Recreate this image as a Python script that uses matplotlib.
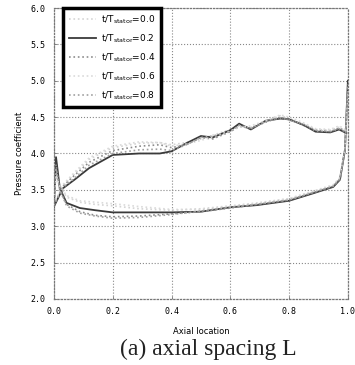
from matplotlib import pyplot as plt

# chordwise positions (upper and lower surface)
x_upper = [0.0, 0.03, 0.07, 0.12, 0.2, 0.29, 0.36, 0.4, 0.45, 0.5, 0.54, 0.6, 0.63, 0.67,
           0.72, 0.77, 0.8, 0.85, 0.89, 0.94, 0.97, 0.995]
x_lower = [0.0, 0.007, 0.02, 0.043, 0.088, 0.14, 0.2, 0.29, 0.4, 0.5, 0.6, 0.69, 0.8, 0.88,
           0.95, 0.973, 0.99, 1.0]

labels = ['0.0', '0.2', '0.4', '0.6', '0.8']

upper_t00 = [3.30, 3.55, 3.72, 3.92, 4.08, 4.14, 4.15, 4.12, 4.15, 4.20, 4.25, 4.33, 4.38, 4.36,
             4.44, 4.52, 4.48, 4.38, 4.33, 4.32, 4.36, 4.30]
upper_t02 = [3.27, 3.52, 3.64, 3.80, 3.98, 4.00, 4.00, 4.03, 4.14, 4.24, 4.22, 4.32, 4.41, 4.33,
             4.45, 4.48, 4.47, 4.39, 4.30, 4.29, 4.33, 4.28]
upper_t04 = [3.28, 3.55, 3.70, 3.88, 4.04, 4.10, 4.12, 4.08, 4.12, 4.22, 4.20, 4.30, 4.37, 4.35,
             4.43, 4.50, 4.46, 4.40, 4.32, 4.30, 4.35, 4.30]
upper_t06 = [3.30, 3.57, 3.74, 3.94, 4.10, 4.16, 4.15, 4.10, 4.13, 4.18, 4.23, 4.31, 4.36, 4.38,
             4.45, 4.53, 4.50, 4.42, 4.34, 4.33, 4.38, 4.32]
upper_t08 = [3.29, 3.53, 3.66, 3.84, 4.00, 4.05, 4.06, 4.04, 4.12, 4.22, 4.24, 4.30, 4.39, 4.34,
             4.44, 4.49, 4.46, 4.40, 4.31, 4.30, 4.34, 4.29]

lower_t00 = [3.30, 3.75, 3.55, 3.40, 3.33, 3.30, 3.28, 3.24, 3.22, 3.24, 3.28, 3.32, 3.38, 3.47,
             3.56, 3.66, 4.05, 4.90]
lower_t02 = [3.27, 3.95, 3.52, 3.32, 3.25, 3.22, 3.19, 3.19, 3.19, 3.20, 3.26, 3.29, 3.35, 3.45,
             3.54, 3.64, 4.05, 5.00]
lower_t04 = [3.28, 3.85, 3.50, 3.30, 3.20, 3.15, 3.13, 3.14, 3.17, 3.20, 3.25, 3.30, 3.36, 3.46,
             3.55, 3.65, 4.05, 4.95]
lower_t06 = [3.30, 3.70, 3.55, 3.42, 3.35, 3.33, 3.31, 3.27, 3.23, 3.23, 3.27, 3.31, 3.38, 3.48,
             3.57, 3.67, 4.08, 4.85]
lower_t08 = [3.28, 3.80, 3.50, 3.28, 3.18, 3.14, 3.11, 3.12, 3.16, 3.21, 3.26, 3.30, 3.36, 3.46,
             3.55, 3.65, 4.05, 4.95]

uppers = [upper_t00, upper_t02, upper_t04, upper_t06, upper_t08]
lowers = [lower_t00, lower_t02, lower_t04, lower_t06, lower_t08]
colors = ['#d4d4d4', '#3a3a3a', '#8c8c8c', '#dadada', '#a0a0a0']
styles = [':', '-', ':', ':', ':']
widths = [1.2, 1.3, 1.2, 1.2, 1.2]

fig = plt.figure(figsize=(3.55, 3.65), dpi=100)
ax = fig.add_axes([0.152, 0.181, 0.828, 0.797])

for i in range(len(labels)):
    lab = r't/T$_{\mathrm{stator}}$=' + labels[i]
    ax.plot(x_upper, uppers[i], color=colors[i], ls=styles[i], lw=widths[i], label=lab)
    ax.plot(x_lower, lowers[i], color=colors[i], ls=styles[i], lw=widths[i])

ax.set_xlim(0, 1.0)
ax.set_ylim(2.0, 6.0)
ax.set_xticks([0.0, 0.2, 0.4, 0.6, 0.8, 1.0])
ax.set_yticks([2.0, 2.5, 3.0, 3.5, 4.0, 4.5, 5.0, 5.5, 6.0])
ax.set_xticklabels(['0.0', '0.2', '0.4', '0.6', '0.8', '1.0'], family='DejaVu Sans Mono', fontsize=6)
ax.set_yticklabels(['2.0', '2.5', '3.0', '3.5', '4.0', '4.5', '5.0', '5.5', '6.0'],
                   family='DejaVu Sans Mono', fontsize=6)
ax.tick_params(direction='in', length=2, width=0.6, color='#777777', pad=6)
ax.grid(True, color='#888888', ls=':', lw=0.8)
for sp in ax.spines.values():
    sp.set_linestyle(':')
    sp.set_color('#777777')
    sp.set_linewidth(0.9)

ax.set_ylabel('Pressure coefficient', fontsize=6, labelpad=5)
ax.set_xlabel('Axial location', fontsize=6, labelpad=8)

leg = ax.legend(loc='upper left', bbox_to_anchor=(0.032, 1.0), fontsize=6.5, handlelength=3.0,
                handletextpad=0.6, labelspacing=0.72, borderpad=0.6, borderaxespad=0.0,
                fancybox=False, framealpha=1)
leg.get_frame().set_edgecolor('black')
leg.get_frame().set_linewidth(2.5)

fig.text(0.588, 0.013, '(a) axial spacing L', family='Liberation Serif', fontsize=17,
         ha='center', va='bottom', color='#222222')

fig.savefig('out.png', dpi=100)
